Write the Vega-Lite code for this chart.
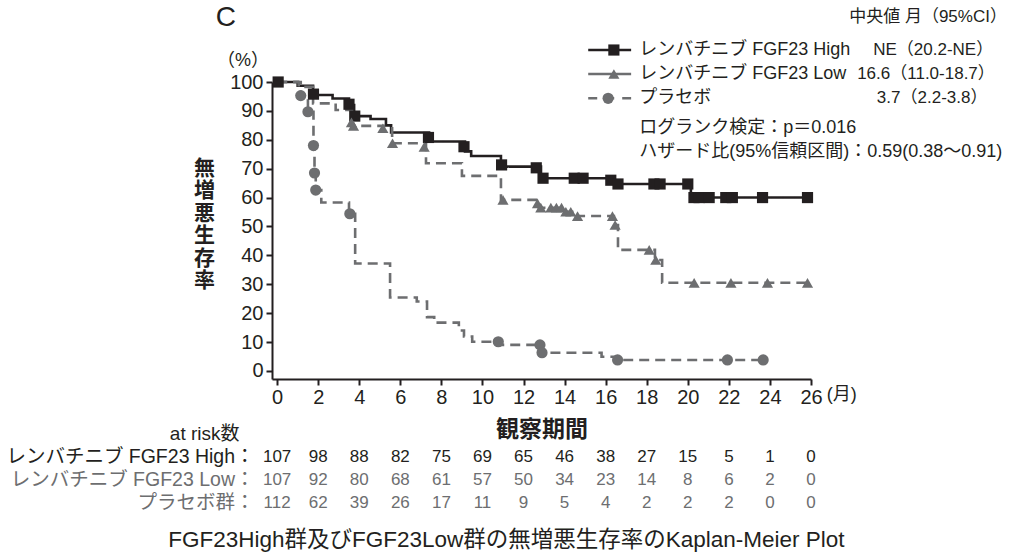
{
  "$schema": "https://vega.github.io/schema/vega-lite/v6.json",
  "background": "white",
  "padding": {"left": 5, "top": 4, "right": 2, "bottom": 4},
  "datasets": {
    "curves": [
      {"group": "レンバチニブ FGF23 High", "t": 0, "s": 100},
      {"group": "レンバチニブ FGF23 High", "t": 1.0, "s": 98.7},
      {"group": "レンバチニブ FGF23 High", "t": 1.75, "s": 95.5},
      {"group": "レンバチニブ FGF23 High", "t": 2.7, "s": 94.3},
      {"group": "レンバチニブ FGF23 High", "t": 3.5, "s": 92.0},
      {"group": "レンバチニブ FGF23 High", "t": 3.75, "s": 88.2},
      {"group": "レンバチニブ FGF23 High", "t": 4.55, "s": 87.2},
      {"group": "レンバチニブ FGF23 High", "t": 5.3, "s": 85.0},
      {"group": "レンバチニブ FGF23 High", "t": 5.55, "s": 82.5},
      {"group": "レンバチニブ FGF23 High", "t": 7.4, "s": 79.4},
      {"group": "レンバチニブ FGF23 High", "t": 9.15, "s": 76.0},
      {"group": "レンバチニブ FGF23 High", "t": 9.45, "s": 74.4},
      {"group": "レンバチニブ FGF23 High", "t": 10.9, "s": 70.7},
      {"group": "レンバチニブ FGF23 High", "t": 12.85, "s": 66.7},
      {"group": "レンバチニブ FGF23 High", "t": 16.4, "s": 64.7},
      {"group": "レンバチニブ FGF23 High", "t": 20.15, "s": 60.0},
      {"group": "レンバチニブ FGF23 High", "t": 25.83, "s": 60.0},
      {"group": "レンバチニブ FGF23 Low", "t": 0, "s": 100},
      {"group": "レンバチニブ FGF23 Low", "t": 1.05, "s": 98.3},
      {"group": "レンバチニブ FGF23 Low", "t": 1.75, "s": 92.6},
      {"group": "レンバチニブ FGF23 Low", "t": 2.85, "s": 90.3},
      {"group": "レンバチニブ FGF23 Low", "t": 3.65, "s": 84.8},
      {"group": "レンバチニブ FGF23 Low", "t": 5.2, "s": 84.0},
      {"group": "レンバチニブ FGF23 Low", "t": 5.6, "s": 78.8},
      {"group": "レンバチニブ FGF23 Low", "t": 7.25, "s": 71.9},
      {"group": "レンバチニブ FGF23 Low", "t": 9.0, "s": 67.5},
      {"group": "レンバチニブ FGF23 Low", "t": 10.9, "s": 59.2},
      {"group": "レンバチニブ FGF23 Low", "t": 12.75, "s": 56.5},
      {"group": "レンバチニブ FGF23 Low", "t": 14.0, "s": 55.1},
      {"group": "レンバチニブ FGF23 Low", "t": 14.55, "s": 53.6},
      {"group": "レンバチニブ FGF23 Low", "t": 16.4, "s": 50.5},
      {"group": "レンバチニブ FGF23 Low", "t": 16.6, "s": 41.9},
      {"group": "レンバチニブ FGF23 Low", "t": 18.4, "s": 38.4},
      {"group": "レンバチニブ FGF23 Low", "t": 18.75, "s": 30.5},
      {"group": "レンバチニブ FGF23 Low", "t": 25.83, "s": 30.5},
      {"group": "プラセボ", "t": 0, "s": 100},
      {"group": "プラセボ", "t": 1.15, "s": 95.3},
      {"group": "プラセボ", "t": 1.5, "s": 89.7},
      {"group": "プラセボ", "t": 1.77, "s": 78.0},
      {"group": "プラセボ", "t": 1.82, "s": 68.5},
      {"group": "プラセボ", "t": 1.88, "s": 62.6},
      {"group": "プラセボ", "t": 2.15, "s": 58.3},
      {"group": "プラセボ", "t": 3.5, "s": 54.4},
      {"group": "プラセボ", "t": 3.8, "s": 37.2},
      {"group": "プラセボ", "t": 5.5, "s": 25.4},
      {"group": "プラセボ", "t": 6.8, "s": 24.0},
      {"group": "プラセボ", "t": 7.3, "s": 18.6},
      {"group": "プラセボ", "t": 7.65, "s": 16.7},
      {"group": "プラセボ", "t": 8.85, "s": 14.0},
      {"group": "プラセボ", "t": 9.1, "s": 11.9},
      {"group": "プラセボ", "t": 9.5, "s": 10.1},
      {"group": "プラセボ", "t": 10.85, "s": 9.0},
      {"group": "プラセボ", "t": 12.85, "s": 6.3},
      {"group": "プラセボ", "t": 15.8, "s": 4.9},
      {"group": "プラセボ", "t": 16.5, "s": 3.8},
      {"group": "プラセボ", "t": 23.67, "s": 3.8}
    ],
    "censors": [
      {"group": "レンバチニブ FGF23 High", "t": 0.05, "s": 100},
      {"group": "レンバチニブ FGF23 High", "t": 1.77, "s": 95.8},
      {"group": "レンバチニブ FGF23 High", "t": 3.5, "s": 92.3},
      {"group": "レンバチニブ FGF23 High", "t": 3.78, "s": 88.2},
      {"group": "レンバチニブ FGF23 High", "t": 7.37, "s": 80.8},
      {"group": "レンバチニブ FGF23 High", "t": 9.1, "s": 77.6},
      {"group": "レンバチニブ FGF23 High", "t": 10.93, "s": 71.3},
      {"group": "レンバチニブ FGF23 High", "t": 12.62, "s": 70.3},
      {"group": "レンバチニブ FGF23 High", "t": 12.95, "s": 66.7},
      {"group": "レンバチニブ FGF23 High", "t": 14.47, "s": 66.7},
      {"group": "レンバチニブ FGF23 High", "t": 14.9, "s": 66.7},
      {"group": "レンバチニブ FGF23 High", "t": 16.25, "s": 66.0},
      {"group": "レンバチニブ FGF23 High", "t": 16.6, "s": 64.7},
      {"group": "レンバチニブ FGF23 High", "t": 18.35, "s": 64.7},
      {"group": "レンバチニブ FGF23 High", "t": 18.65, "s": 64.7},
      {"group": "レンバチニブ FGF23 High", "t": 20.0, "s": 64.7},
      {"group": "レンバチニブ FGF23 High", "t": 20.3, "s": 60},
      {"group": "レンバチニブ FGF23 High", "t": 20.55, "s": 60},
      {"group": "レンバチニブ FGF23 High", "t": 21.04, "s": 60},
      {"group": "レンバチニブ FGF23 High", "t": 21.85, "s": 60},
      {"group": "レンバチニブ FGF23 High", "t": 22.17, "s": 60},
      {"group": "レンバチニブ FGF23 High", "t": 23.64, "s": 60},
      {"group": "レンバチニブ FGF23 High", "t": 25.83, "s": 60},
      {"group": "レンバチニブ FGF23 Low", "t": 3.62, "s": 86.0},
      {"group": "レンバチニブ FGF23 Low", "t": 3.72, "s": 84.8},
      {"group": "レンバチニブ FGF23 Low", "t": 5.15, "s": 84.0},
      {"group": "レンバチニブ FGF23 Low", "t": 5.62, "s": 78.8},
      {"group": "レンバチニブ FGF23 Low", "t": 7.16, "s": 77.5},
      {"group": "レンバチニブ FGF23 Low", "t": 11.0, "s": 59.2},
      {"group": "レンバチニブ FGF23 Low", "t": 12.68, "s": 58.0},
      {"group": "レンバチニブ FGF23 Low", "t": 12.84, "s": 56.5},
      {"group": "レンバチニブ FGF23 Low", "t": 13.33, "s": 56.5},
      {"group": "レンバチニブ FGF23 Low", "t": 13.6, "s": 56.5},
      {"group": "レンバチニブ FGF23 Low", "t": 13.85, "s": 56.5},
      {"group": "レンバチニブ FGF23 Low", "t": 14.06, "s": 55.1},
      {"group": "レンバチニブ FGF23 Low", "t": 14.3, "s": 55.1},
      {"group": "レンバチニブ FGF23 Low", "t": 14.63, "s": 53.6},
      {"group": "レンバチニブ FGF23 Low", "t": 16.33, "s": 53.6},
      {"group": "レンバチニブ FGF23 Low", "t": 16.46, "s": 50.5},
      {"group": "レンバチニブ FGF23 Low", "t": 18.12, "s": 41.9},
      {"group": "レンバチニブ FGF23 Low", "t": 18.44, "s": 38.4},
      {"group": "レンバチニブ FGF23 Low", "t": 20.31, "s": 30.5},
      {"group": "レンバチニブ FGF23 Low", "t": 22.1, "s": 30.5},
      {"group": "レンバチニブ FGF23 Low", "t": 23.88, "s": 30.5},
      {"group": "レンバチニブ FGF23 Low", "t": 25.83, "s": 30.5},
      {"group": "プラセボ", "t": 1.15, "s": 95.3},
      {"group": "プラセボ", "t": 1.5, "s": 89.7},
      {"group": "プラセボ", "t": 1.77, "s": 78.0},
      {"group": "プラセボ", "t": 1.82, "s": 68.5},
      {"group": "プラセボ", "t": 1.88, "s": 62.6},
      {"group": "プラセボ", "t": 3.54, "s": 54.4},
      {"group": "プラセボ", "t": 10.77, "s": 10.1},
      {"group": "プラセボ", "t": 12.8, "s": 9.0},
      {"group": "プラセボ", "t": 12.9, "s": 6.3},
      {"group": "プラセボ", "t": 16.58, "s": 3.8},
      {"group": "プラセボ", "t": 21.93, "s": 3.8},
      {"group": "プラセボ", "t": 23.67, "s": 3.8}
    ],
    "groups": [
      {"group": "レンバチニブ FGF23 High", "median": "NE（20.2-NE）"},
      {"group": "レンバチニブ FGF23 Low", "median": "16.6（11.0-18.7）"},
      {"group": "プラセボ", "median": "3.7（2.2-3.8）"}
    ],
    "risk": [
      {"group": "レンバチニブ FGF23 High", "t": 0, "n": 107},
      {"group": "レンバチニブ FGF23 High", "t": 2, "n": 98},
      {"group": "レンバチニブ FGF23 High", "t": 4, "n": 88},
      {"group": "レンバチニブ FGF23 High", "t": 6, "n": 82},
      {"group": "レンバチニブ FGF23 High", "t": 8, "n": 75},
      {"group": "レンバチニブ FGF23 High", "t": 10, "n": 69},
      {"group": "レンバチニブ FGF23 High", "t": 12, "n": 65},
      {"group": "レンバチニブ FGF23 High", "t": 14, "n": 46},
      {"group": "レンバチニブ FGF23 High", "t": 16, "n": 38},
      {"group": "レンバチニブ FGF23 High", "t": 18, "n": 27},
      {"group": "レンバチニブ FGF23 High", "t": 20, "n": 15},
      {"group": "レンバチニブ FGF23 High", "t": 22, "n": 5},
      {"group": "レンバチニブ FGF23 High", "t": 24, "n": 1},
      {"group": "レンバチニブ FGF23 High", "t": 26, "n": 0},
      {"group": "レンバチニブ FGF23 Low", "t": 0, "n": 107},
      {"group": "レンバチニブ FGF23 Low", "t": 2, "n": 92},
      {"group": "レンバチニブ FGF23 Low", "t": 4, "n": 80},
      {"group": "レンバチニブ FGF23 Low", "t": 6, "n": 68},
      {"group": "レンバチニブ FGF23 Low", "t": 8, "n": 61},
      {"group": "レンバチニブ FGF23 Low", "t": 10, "n": 57},
      {"group": "レンバチニブ FGF23 Low", "t": 12, "n": 50},
      {"group": "レンバチニブ FGF23 Low", "t": 14, "n": 34},
      {"group": "レンバチニブ FGF23 Low", "t": 16, "n": 23},
      {"group": "レンバチニブ FGF23 Low", "t": 18, "n": 14},
      {"group": "レンバチニブ FGF23 Low", "t": 20, "n": 8},
      {"group": "レンバチニブ FGF23 Low", "t": 22, "n": 6},
      {"group": "レンバチニブ FGF23 Low", "t": 24, "n": 2},
      {"group": "レンバチニブ FGF23 Low", "t": 26, "n": 0},
      {"group": "プラセボ", "t": 0, "n": 112},
      {"group": "プラセボ", "t": 2, "n": 62},
      {"group": "プラセボ", "t": 4, "n": 39},
      {"group": "プラセボ", "t": 6, "n": 26},
      {"group": "プラセボ", "t": 8, "n": 17},
      {"group": "プラセボ", "t": 10, "n": 11},
      {"group": "プラセボ", "t": 12, "n": 9},
      {"group": "プラセボ", "t": 14, "n": 5},
      {"group": "プラセボ", "t": 16, "n": 4},
      {"group": "プラセボ", "t": 18, "n": 2},
      {"group": "プラセボ", "t": 20, "n": 2},
      {"group": "プラセボ", "t": 22, "n": 2},
      {"group": "プラセボ", "t": 24, "n": 0},
      {"group": "プラセボ", "t": 26, "n": 0}
    ]
  },
  "title": {
    "text": "FGF23High群及びFGF23Low群の無増悪生存率のKaplan-Meier Plot",
    "orient": "bottom",
    "anchor": "middle",
    "frame": "bounds",
    "fontSize": 22.5,
    "fontWeight": "normal",
    "color": "#231f20",
    "offset": 15
  },
  "bounds": "flush",
  "spacing": 66,
  "vconcat": [
    {
      "width": 539,
      "height": 297,
      "resolve": {"axis": {"x": "independent", "y": "independent"}},
      "layer": [
        {
          "data": {"name": "curves"},
          "mark": {"type": "line", "interpolate": "step-after", "strokeWidth": 2.6},
          "encoding": {
            "x": {
              "field": "t", "type": "quantitative",
              "scale": {"domain": [-0.25, 26], "nice": false, "zero": false},
              "axis": {
                "values": [0, 2, 4, 6, 8, 10, 12, 14, 16, 18, 20, 22, 24, 26],
                "grid": false, "labelFlush": false, "labelOverlap": false,
                "domainColor": "#231f20", "domainWidth": 2,
                "tickColor": "#231f20", "tickWidth": 2, "tickSize": 6,
                "labelFontSize": 20, "labelPadding": 2, "labelColor": "#231f20",
                "title": "観察期間", "titleFontSize": 23, "titleFontWeight": "bold",
                "titlePadding": 11, "titleColor": "#231f20"
              }
            },
            "y": {
              "field": "s", "type": "quantitative",
              "scale": {"domain": [-2.8, 100], "nice": false, "zero": false},
              "axis": {
                "values": [0, 10, 20, 30, 40, 50, 60, 70, 80, 90, 100],
                "grid": false, "labelFlush": false, "labelOverlap": false,
                "domainColor": "#231f20", "domainWidth": 2,
                "tickColor": "#231f20", "tickWidth": 2, "tickSize": 6,
                "labelFontSize": 20, "labelPadding": 3, "labelColor": "#231f20",
                "title": ["無", "増", "悪", "生", "存", "率"],
                "titleAngle": 0, "titleX": -68, "titleY": 86,
                "titleAlign": "center", "titleBaseline": "middle",
                "titleFontSize": 21, "titleLineHeight": 22.5, "titleFontWeight": "bold",
                "titleColor": "#231f20"
              }
            },
            "color": {
              "field": "group", "type": "nominal",
              "scale": {"domain": ["レンバチニブ FGF23 High", "レンバチニブ FGF23 Low", "プラセボ"], "range": ["#231f20", "#6d6e70", "#6d6e70"]},
              "legend": null
            },
            "strokeDash": {
              "field": "group", "type": "nominal",
              "scale": {"domain": ["レンバチニブ FGF23 High", "レンバチニブ FGF23 Low", "プラセボ"], "range": [[1, 0], [10, 6], [10, 6]]},
              "legend": null
            }
          }
        },
        {
          "data": {"name": "censors"},
          "mark": {"type": "point", "filled": true, "opacity": 1, "strokeWidth": 0, "size": 125},
          "encoding": {
            "x": {"field": "t", "type": "quantitative", "axis": null},
            "y": {"field": "s", "type": "quantitative", "axis": null},
            "color": {"field": "group", "type": "nominal", "legend": null},
            "shape": {
              "field": "group", "type": "nominal",
              "scale": {"domain": ["レンバチニブ FGF23 High", "レンバチニブ FGF23 Low", "プラセボ"], "range": ["square", "triangle-up", "circle"]},
              "legend": null
            }
          }
        },
        {
          "data": {"name": "groups"},
          "transform": [{"filter": "datum.group === 'レンバチニブ FGF23 High'"}],
          "encoding": {"y": {"datum": 111.07, "axis": null}},
          "layer": [
            {
              "mark": {"type": "rule", "strokeWidth": 2.6},
              "encoding": {
                "x": {"datum": 15.15, "axis": null}, "x2": {"datum": 17.24},
                "color": {"field": "group", "type": "nominal", "legend": null}
              }
            },
            {
              "mark": {"type": "point", "filled": true, "opacity": 1, "strokeWidth": 0, "size": 125},
              "encoding": {
                "x": {"datum": 16.4, "axis": null},
                "color": {"field": "group", "type": "nominal", "legend": null},
                "shape": {"field": "group", "type": "nominal", "legend": null}
              }
            },
            {
              "mark": {"type": "text", "fontSize": 18, "align": "left", "baseline": "middle", "color": "#231f20"},
              "encoding": {"x": {"datum": 17.63, "axis": null}, "text": {"field": "group"}}
            },
            {
              "mark": {"type": "text", "fontSize": 17, "align": "center", "baseline": "middle", "color": "#231f20"},
              "encoding": {"x": {"datum": 31.95, "axis": null}, "text": {"field": "median"}}
            }
          ]
        },
        {
          "data": {"name": "groups"},
          "transform": [{"filter": "datum.group === 'レンバチニブ FGF23 Low'"}],
          "encoding": {"y": {"datum": 102.77, "axis": null}},
          "layer": [
            {
              "mark": {"type": "rule", "strokeWidth": 2.6},
              "encoding": {
                "x": {"datum": 15.15, "axis": null}, "x2": {"datum": 17.24},
                "color": {"field": "group", "type": "nominal", "legend": null}
              }
            },
            {
              "mark": {"type": "point", "filled": true, "opacity": 1, "strokeWidth": 0, "size": 125},
              "encoding": {
                "x": {"datum": 16.4, "axis": null},
                "color": {"field": "group", "type": "nominal", "legend": null},
                "shape": {"field": "group", "type": "nominal", "legend": null}
              }
            },
            {
              "mark": {"type": "text", "fontSize": 18, "align": "left", "baseline": "middle", "color": "#231f20"},
              "encoding": {"x": {"datum": 17.63, "axis": null}, "text": {"field": "group"}}
            },
            {
              "mark": {"type": "text", "fontSize": 17, "align": "center", "baseline": "middle", "color": "#231f20"},
              "encoding": {"x": {"datum": 31.6, "axis": null}, "text": {"field": "median"}}
            }
          ]
        },
        {
          "data": {"name": "groups"},
          "transform": [{"filter": "datum.group === 'プラセボ'"}],
          "encoding": {"y": {"datum": 94.36, "axis": null}},
          "layer": [
            {
              "mark": {"type": "rule", "strokeWidth": 2.6, "strokeDash": [9, 8]},
              "encoding": {
                "x": {"datum": 15.15, "axis": null}, "x2": {"datum": 17.24},
                "color": {"field": "group", "type": "nominal", "legend": null}
              }
            },
            {
              "mark": {"type": "point", "filled": true, "opacity": 1, "strokeWidth": 0, "size": 125},
              "encoding": {
                "x": {"datum": 16.12, "axis": null},
                "color": {"field": "group", "type": "nominal", "legend": null},
                "shape": {"field": "group", "type": "nominal", "legend": null}
              }
            },
            {
              "mark": {"type": "text", "fontSize": 18, "align": "left", "baseline": "middle", "color": "#231f20"},
              "encoding": {"x": {"datum": 17.63, "axis": null}, "text": {"field": "group"}}
            },
            {
              "mark": {"type": "text", "fontSize": 17, "align": "center", "baseline": "middle", "color": "#231f20"},
              "encoding": {"x": {"datum": 31.9, "axis": null}, "text": {"field": "median"}}
            }
          ]
        },
        {
          "data": {"values": [{}]},
          "mark": {"type": "text", "text": "C", "fontSize": 28, "align": "center", "baseline": "middle", "color": "#231f20"},
          "encoding": {"x": {"datum": -2.5, "axis": null}, "y": {"datum": 122.1, "axis": null}}
        },
        {
          "data": {"values": [{}]},
          "mark": {"type": "text", "text": "（%）", "fontSize": 18, "align": "center", "baseline": "middle", "color": "#231f20"},
          "encoding": {"x": {"datum": -1.66, "axis": null}, "y": {"datum": 107.3, "axis": null}}
        },
        {
          "data": {"values": [{}]},
          "mark": {"type": "text", "text": "(月)", "fontSize": 18, "align": "center", "baseline": "middle", "color": "#231f20"},
          "encoding": {"x": {"datum": 27.5, "axis": null}, "y": {"datum": -8.3, "axis": null}}
        },
        {
          "data": {"values": [{}]},
          "mark": {"type": "text", "text": "中央値 月（95%CI）", "fontSize": 17, "align": "center", "baseline": "middle", "color": "#231f20"},
          "encoding": {"x": {"datum": 31.7, "axis": null}, "y": {"datum": 122.5, "axis": null}}
        },
        {
          "data": {"values": [{}]},
          "mark": {"type": "text", "text": "ログランク検定：p＝0.016", "fontSize": 18, "align": "left", "baseline": "middle", "color": "#231f20"},
          "encoding": {"x": {"datum": 17.63, "axis": null}, "y": {"datum": 84.2, "axis": null}}
        },
        {
          "data": {"values": [{}]},
          "mark": {"type": "text", "text": "ハザード比(95%信頼区間)：0.59(0.38〜0.91)", "fontSize": 18, "align": "left", "baseline": "middle", "color": "#231f20"},
          "encoding": {"x": {"datum": 17.63, "axis": null}, "y": {"datum": 75.9, "axis": null}}
        }
      ]
    },
    {
      "width": 539,
      "height": 69,
      "data": {"name": "risk"},
      "mark": {"type": "text", "fontSize": 17, "align": "center", "baseline": "middle"},
      "encoding": {
        "x": {
          "field": "t", "type": "quantitative",
          "scale": {"domain": [-0.25, 26], "nice": false, "zero": false},
          "axis": null
        },
        "y": {
          "field": "group", "type": "nominal",
          "sort": ["レンバチニブ FGF23 High", "レンバチニブ FGF23 Low", "プラセボ"],
          "scale": {"type": "band", "paddingInner": 0, "paddingOuter": 0},
          "axis": {
            "domain": false, "ticks": false, "tickSize": 0, "grid": false,
            "labelPadding": 18, "labelFontSize": 19.5, "labelLimit": 400,
            "labelExpr": "datum.value === 'プラセボ' ? 'プラセボ群：' : datum.value + '：'",
            "labelColor": {"expr": "datum.value === 'レンバチニブ FGF23 High' ? '#231f20' : '#6d6e70'"},
            "title": "at risk数", "titleAngle": 0, "titleAlign": "right", "titleBaseline": "middle",
            "titleX": -33, "titleY": -12, "titleFontSize": 19, "titleFontWeight": "normal",
            "titleColor": "#231f20"
          }
        },
        "text": {"field": "n", "type": "quantitative"},
        "color": {
          "condition": {"test": "datum.group === 'レンバチニブ FGF23 High'", "value": "#231f20"},
          "value": "#6d6e70"
        }
      }
    }
  ],
  "config": {
    "font": "Liberation Sans, Noto Sans CJK JP",
    "view": {"stroke": null},
    "axis": {"labelOverlap": false}
  }
}
